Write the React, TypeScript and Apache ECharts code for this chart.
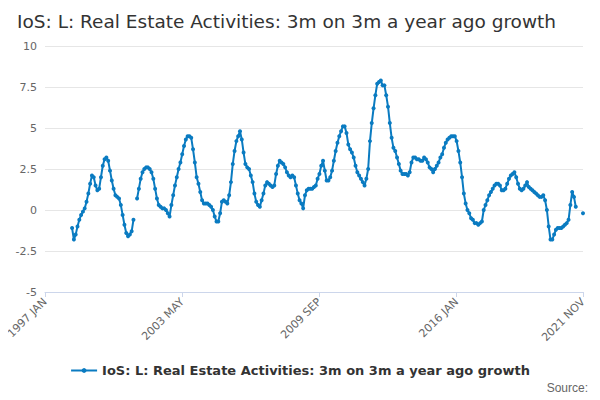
import { useRef, useEffect } from 'react';
import * as echarts from 'echarts';

const MONTHS = ['JAN', 'FEB', 'MAR', 'APR', 'MAY', 'JUN', 'JUL', 'AUG', 'SEP', 'OCT', 'NOV', 'DEC'];
const categories: string[] = [];
for (let y = 1997; y <= 2021; y++) {
  for (let m = 0; m < 12; m++) {
    if (y === 2021 && m > 10) break;
    categories.push(`${y} ${MONTHS[m]}`);
  }
}

// 1998 APR - 2001 FEB
const seg1 = [
  -1.1, -1.8, -1.5, -1.0, -0.6, -0.3, -0.1, 0.1, 0.5, 1.0, 1.6, 2.1, 2.0, 1.5, 1.2, 1.3, 2.0, 2.7,
  3.1, 3.2, 3.0, 2.4, 1.8, 1.3, 0.9, 0.8, 0.7, 0.3, -0.3, -0.9, -1.4, -1.6, -1.5, -1.3, -0.6,
];
// 2001 APR - 2021 AUG
const seg2 = [
  0.7, 1.3, 1.9, 2.3, 2.5, 2.6, 2.6, 2.5, 2.3, 1.9, 1.3, 0.7, 0.3, 0.2, 0.1, 0.1, 0.0, -0.2, -0.4,
  0.3, 0.9, 1.5, 2.0, 2.5, 2.9, 3.4, 3.9, 4.3, 4.5, 4.5, 4.4,
  3.7, 2.9, 2.0, 1.6, 1.1, 0.6, 0.4, 0.4, 0.4, 0.3, 0.2, 0.0, -0.4, -0.7, -0.7,
  -0.2, 0.5, 0.6, 0.5, 0.4, 0.9, 1.7, 2.8, 3.6, 4.2, 4.5, 4.8,
  4.3, 3.5, 2.8, 2.6, 2.5, 2.1, 1.7, 1.0, 0.5, 0.3, 0.2,
  0.6, 1.0, 1.5, 1.7, 1.6, 1.5, 1.4, 1.5, 2.2, 2.7, 3.0, 2.9, 2.8, 2.6, 2.3, 2.1, 2.0, 2.1, 2.0,
  1.5, 1.0, 0.6, 0.4, 0.1,
  0.9, 1.2, 1.3, 1.3, 1.3, 1.4, 1.5, 1.9, 2.2, 2.7, 3.0,
  2.4, 1.8, 1.8, 2.0, 2.4, 3.0, 3.6, 4.1, 4.5, 4.8, 5.1, 5.1, 4.7, 4.0, 3.7, 3.5, 3.2, 2.7, 2.3, 2.1, 1.9, 1.7, 1.5,
  1.9, 2.5, 4.2, 5.3, 6.2, 7.0, 7.7, 7.8, 7.9,
  7.6, 7.6, 7.0, 6.3, 5.3, 4.4, 3.8, 3.6, 3.2, 2.8, 2.4, 2.2, 2.2, 2.2, 2.1,
  2.3, 2.9, 3.2, 3.2, 3.1, 3.1, 3.0, 3.0, 3.2, 3.1, 2.9, 2.6, 2.5, 2.3,
  2.5, 2.7, 2.9, 3.2, 3.4, 3.8, 4.1, 4.3, 4.4, 4.5, 4.5, 4.5,
  4.2, 3.6, 2.9, 2.0, 1.0, 0.4, 0.0, -0.2, -0.5, -0.6, -0.8, -0.8, -0.9, -0.8, -0.7,
  0.0, 0.3, 0.6, 0.9, 1.1, 1.3, 1.5, 1.6, 1.6, 1.5, 1.2, 1.2, 1.3, 1.6, 1.9, 2.1, 2.2, 2.3, 2.0, 1.6,
  1.3, 1.2, 1.3, 1.5, 1.7, 1.4, 1.3, 1.2, 1.1, 1.0, 0.9, 0.8, 0.8, 0.9, 0.6, 0.0, -1.0, -1.8, -1.8, -1.5,
  -1.2, -1.1, -1.1, -1.1, -1.0, -0.9, -0.8, -0.6, 0.3, 1.1, 0.8, 0.2,
];
const lastValue = -0.2;

const values: (number | null)[] = categories.map(() => null);
seg1.forEach((v, i) => { values[15 + i] = v; });
seg2.forEach((v, i) => { if (51 + i < categories.length - 2) values[51 + i] = v; });
values[categories.length - 1] = lastValue;

const labelIdx = [0, 76, 152, 228, categories.length - 1];
const SERIES_NAME = 'IoS: L: Real Estate Activities: 3m on 3m a year ago growth';

export default function App() {
  const ref = useRef<HTMLDivElement>(null);

  useEffect(() => {
    if (!ref.current) return;
    const chart = echarts.init(ref.current, undefined, { renderer: 'svg' });
    chart.setOption({
      animation: false,
      textStyle: { fontFamily: 'DejaVu Sans' },
      title: {
        text: SERIES_NAME,
        left: 12,
        top: 7,
        textStyle: { fontSize: 18.5, fontWeight: 'normal', color: '#333' },
      },
      grid: { left: 45, right: 17, top: 46, bottom: 108 },
      legend: {
        bottom: 18,
        left: 'center',
        itemWidth: 26,
        itemHeight: 6,
        textStyle: { fontSize: 13, fontWeight: 'bold', color: '#333' },
      },
      xAxis: {
        type: 'category',
        data: categories,
        boundaryGap: false,
        axisLine: { onZero: false, lineStyle: { color: '#ccd6eb' } },
        axisTick: {
          alignWithLabel: true,
          interval: (i: number) => labelIdx.includes(i),
          lineStyle: { color: '#ccd6eb' },
        },
        axisLabel: {
          interval: (i: number) => labelIdx.includes(i),
          rotate: 45,
          color: '#666',
          fontSize: 11,
        },
      },
      yAxis: {
        type: 'value',
        min: -5,
        max: 10,
        interval: 2.5,
        axisLine: { show: false },
        axisTick: { show: false },
        axisLabel: { color: '#666', fontSize: 11 },
        splitLine: { lineStyle: { color: '#e6e6e6' } },
      },
      series: [
        {
          name: SERIES_NAME,
          type: 'line',
          data: values,
          symbol: 'circle',
          symbolSize: 4,
          showAllSymbol: true,
          lineStyle: { width: 2, color: '#0a7bc1' },
          itemStyle: { color: '#0a7bc1' },
        },
      ],
      graphic: [
        {
          type: 'text',
          right: 12,
          bottom: 6,
          style: { text: 'Source:', fill: '#666', fontSize: 12 },
        },
      ],
    });
    return () => chart.dispose();
  }, []);

  return <div ref={ref} style={{ width: 600, height: 400, margin: -8 }} />;
}
